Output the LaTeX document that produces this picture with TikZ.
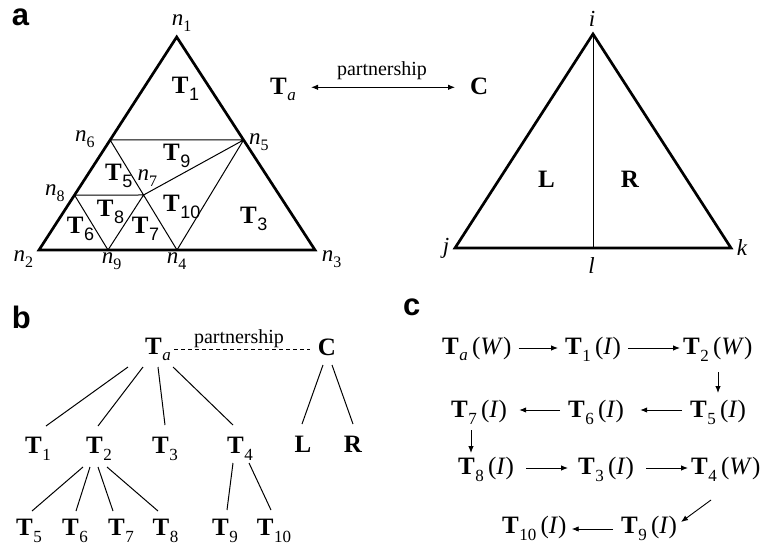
\documentclass[tikz,border=0pt]{standalone}
\usepackage{fontspec}
\setmainfont{Liberation Serif}
\newfontfamily\helv{Liberation Sans}
\usetikzlibrary{arrows.meta,calc}
\newcommand{\Tsub}[1]{\textbf{T}\kern0.5pt\raisebox{-7pt}{\fontsize{17}{17}\selectfont #1}}
\newcommand{\Tsf}[1]{\textbf{T}\kern0.5pt\raisebox{-7pt}{\helv\fontsize{18}{18}\selectfont #1}}
\newcommand{\Tai}{\textbf{T}\kern0.5pt\raisebox{-6.5pt}{\fontsize{17}{17}\selectfont\itshape a}}
\newcommand{\nsub}[1]{\textit{n}\raisebox{-6pt}{\fontsize{16}{16}\selectfont #1}}
\tikzset{
  lab/.style={inner sep=0pt, font=\fontsize{25}{30}\selectfont, anchor=base west},
  nlab/.style={inner sep=0pt, font=\fontsize{23}{28}\selectfont, anchor=base west},
  vlab/.style={inner sep=0pt, font=\fontsize{23}{28}\selectfont\itshape, anchor=base},
  panel/.style={inner sep=0pt, font=\helv\bfseries\fontsize{31}{36}\selectfont, anchor=base west},
  tree/.style={inner sep=0pt, font=\fontsize{25}{30}\selectfont, anchor=base},
  ptxt/.style={inner sep=0pt, font=\fontsize{20}{24}\selectfont, anchor=base},
  outline/.style={line width=2.7pt, line join=miter},
  thinline/.style={line width=1pt},
  arr/.style={-{Latex[length=7pt,width=5.5pt]}, line width=0.9pt},
  darr/.style={{Latex[length=7pt,width=5.5pt]}-{Latex[length=7pt,width=5.5pt]}, line width=0.9pt}
}
\begin{document}
\begin{tikzpicture}[x=1pt,y=-1pt]
\useasboundingbox (0,0) rectangle (760,546);
% ---------------- panel a ----------------
\node[panel] (pa) at (11.7,25) {a};
\coordinate (n1) at (176.7,37);
\coordinate (n2) at (39,250);
\coordinate (n3) at (315,250);
\coordinate (n6) at ($(n1)!0.4835!(n2)$);
\coordinate (n5) at ($(n1)!0.4835!(n3)$);
\coordinate (n8) at ($(n1)!0.742!(n2)$);
\coordinate (n9) at ($(n2)!0.25!(n3)$);
\coordinate (n4) at ($(n2)!0.5!(n3)$);
\coordinate (n7) at ($(n6)!0.5!(n4)$);
\draw[thinline] (n6) -- (n5) (n6) -- (n4) (n8) -- (n7) (n8) -- (n9) (n9) -- (n7) (n7) -- (n5) (n5) -- (n4);
\draw[outline] (n1) -- (n2) -- (n3) -- cycle;
\node[nlab] (ln1) at (171.7,25) {\nsub{1}};
\node[nlab] (ln6) at (75,141.7) {\nsub{6}};
\node[nlab] (ln5) at (249,144) {\nsub{5}};
\node[nlab] (ln7) at (137.5,180) {\nsub{7}};
\node[nlab] (ln8) at (45,195) {\nsub{8}};
\node[nlab] (ln2) at (13.3,261.7) {\nsub{2}};
\node[nlab] (ln9) at (101.7,263) {\nsub{9}};
\node[nlab] (ln4) at (166.7,263) {\nsub{4}};
\node[nlab] (ln3) at (321.7,261.7) {\nsub{3}};
\node[lab] (aT1) at (171.7,93) {\Tsf{1}};
\node[lab] (aT9) at (163,160) {\Tsf{9}};
\node[lab] (aT5) at (105,180) {\Tsf{5}};
\node[lab] (aT8) at (96.7,216.7) {\Tsf{8}};
\node[lab] (aT10) at (163,211.7) {\Tsf{10}};
\node[lab] (aT3) at (240,223.3) {\Tsf{3}};
\node[lab] (aT6) at (66.7,233) {\Tsf{6}};
\node[lab] (aT7) at (131.7,233) {\Tsf{7}};
\node[lab] (aTa) at (270,94) {\Tai};
\node[lab] (aC) at (470,94) {\textbf{C}};
\node[ptxt] (apart) at (382,75.7) {partnership};
\draw[darr, shorten <=15pt, shorten >=15pt] ([yshift=6.7pt]aTa.base east) -- ([yshift=6.7pt]aC.base west);
% right triangle
\coordinate (ci) at (593,34);
\coordinate (cj) at (455,248);
\coordinate (ck) at (731,248);
\coordinate (cl) at (593,248);
\draw[thinline] (ci) -- (cl);
\draw[outline] (ci) -- (cj) -- (ck) -- cycle;
\node[vlab] (li) at (592,26.7) {i};
\node[vlab] (lj) at (446,253) {j};
\node[vlab] (lk) at (742,255) {k};
\node[vlab] (ll) at (591.5,273) {l};
\node[tree] (lL) at (546.5,187) {\textbf{L}};
\node[tree] (lR) at (630,187) {\textbf{R}};
% ---------------- panel b ----------------
\node[panel] (pb) at (11.7,328) {b};
\node[tree] (bTa) at (158,354) {\Tai};
\node[tree] (bC) at (327,355) {\textbf{C}};
\node[ptxt] (bpart) at (239,343) {partnership};
\draw[thinline, dash pattern=on 4pt off 3pt] ([xshift=3pt,yshift=4.5pt]bTa.base east) -- ([xshift=-8pt,yshift=5.5pt]bC.base west);
\node[tree] (bT1) at (38,453) {\Tsub{1}};
\node[tree] (bT2) at (99,453) {\Tsub{2}};
\node[tree] (bT3) at (165,453) {\Tsub{3}};
\node[tree] (bT4) at (240,453) {\Tsub{4}};
\node[tree] (bL) at (303,452) {\textbf{L}};
\node[tree] (bR) at (353,452) {\textbf{R}};
\node[tree] (bT5) at (29,535) {\Tsub{5}};
\node[tree] (bT6) at (75,535) {\Tsub{6}};
\node[tree] (bT7) at (121,535) {\Tsub{7}};
\node[tree] (bT8) at (165.5,535) {\Tsub{8}};
\node[tree] (bT9) at (225,535) {\Tsub{9}};
\node[tree] (bT10) at (274,535) {\Tsub{10}};
\draw[thinline] ([shift={(-30,13)}]bTa.base) -- ([shift={(8,-27)}]bT1.base);
\draw[thinline] ([shift={(-15,13)}]bTa.base) -- ([shift={(-1,-27)}]bT2.base);
\draw[thinline] ([shift={(0,13)}]bTa.base) -- ([shift={(0,-28)}]bT3.base);
\draw[thinline] ([shift={(15,13)}]bTa.base) -- ([shift={(-7,-28)}]bT4.base);
\draw[thinline] ([shift={(-4,10)}]bC.base) -- ([shift={(-1,-28)}]bL.base);
\draw[thinline] ([shift={(5,10)}]bC.base) -- ([shift={(0,-28)}]bR.base);
\draw[thinline] ([shift={(-16,14)}]bT2.base) -- ([shift={(3,-24)}]bT5.base);
\draw[thinline] ([shift={(-9,14)}]bT2.base) -- ([shift={(1,-24)}]bT6.base);
\draw[thinline] ([shift={(-1,14)}]bT2.base) -- ([shift={(-8,-24)}]bT7.base);
\draw[thinline] ([shift={(8,14)}]bT2.base) -- ([shift={(-7.5,-24)}]bT8.base);
\draw[thinline] ([shift={(-7,10)}]bT4.base) -- ([shift={(2,-25)}]bT9.base);
\draw[thinline] ([shift={(9,10)}]bT4.base) -- ([shift={(-3,-25)}]bT10.base);
% ---------------- panel c ----------------
\node[panel] (pc) at (403,315) {c};
\node[lab] (cTa) at (442,354) {\Tai\,(\textit{W})};
\node[lab] (cT1) at (565,354) {\Tsub{1}\,(\textit{I})};
\node[lab] (cT2) at (683,354) {\Tsub{2}\,(\textit{W})};
\node[lab] (cT7) at (451,417) {\Tsub{7}\,(\textit{I})};
\node[lab] (cT6) at (568,417) {\Tsub{6}\,(\textit{I})};
\node[lab] (cT5) at (690,417) {\Tsub{5}\,(\textit{I})};
\node[lab] (cT8) at (458,474) {\Tsub{8}\,(\textit{I})};
\node[lab] (cT3) at (578,474) {\Tsub{3}\,(\textit{I})};
\node[lab] (cT4) at (691,474) {\Tsub{4}\,(\textit{W})};
\node[lab] (cT10) at (502,533) {\Tsub{10}\,(\textit{I})};
\node[lab] (cT9) at (621,533) {\Tsub{9}\,(\textit{I})};
\draw[arr, shorten <=7pt, shorten >=7pt] ([yshift=6pt]cTa.base east) -- ([yshift=6pt]cT1.base west);
\draw[arr, shorten <=7pt, shorten >=3pt] ([yshift=6pt]cT1.base east) -- ([yshift=6pt]cT2.base west);
\draw[arr] ([shift={(35,18)}]cT2.base west) -- ([shift={(28,-24)}]cT5.base west);
\draw[arr, shorten <=8pt, shorten >=16pt] ([yshift=7pt]cT5.base west) -- ([yshift=7pt]cT6.base east);
\draw[arr, shorten <=8pt, shorten >=12pt] ([yshift=7pt]cT6.base west) -- ([yshift=7pt]cT7.base east);
\draw[arr] ([shift={(20,13)}]cT7.base west) -- ([shift={(13,-21)}]cT8.base west);
\draw[arr, shorten <=12pt, shorten >=10pt] ([yshift=6pt]cT8.base east) -- ([yshift=6pt]cT3.base west);
\draw[arr, shorten <=12pt, shorten >=3pt] ([yshift=6pt]cT3.base east) -- ([yshift=6pt]cT4.base west);
\draw[arr] ([shift={(20,26)}]cT4.base west) -- ([shift={(60,-11)}]cT9.base west);
\draw[arr, shorten <=8pt, shorten >=5pt] ([yshift=4pt]cT9.base west) -- ([yshift=4pt]cT10.base east);
\end{tikzpicture}
\end{document}
